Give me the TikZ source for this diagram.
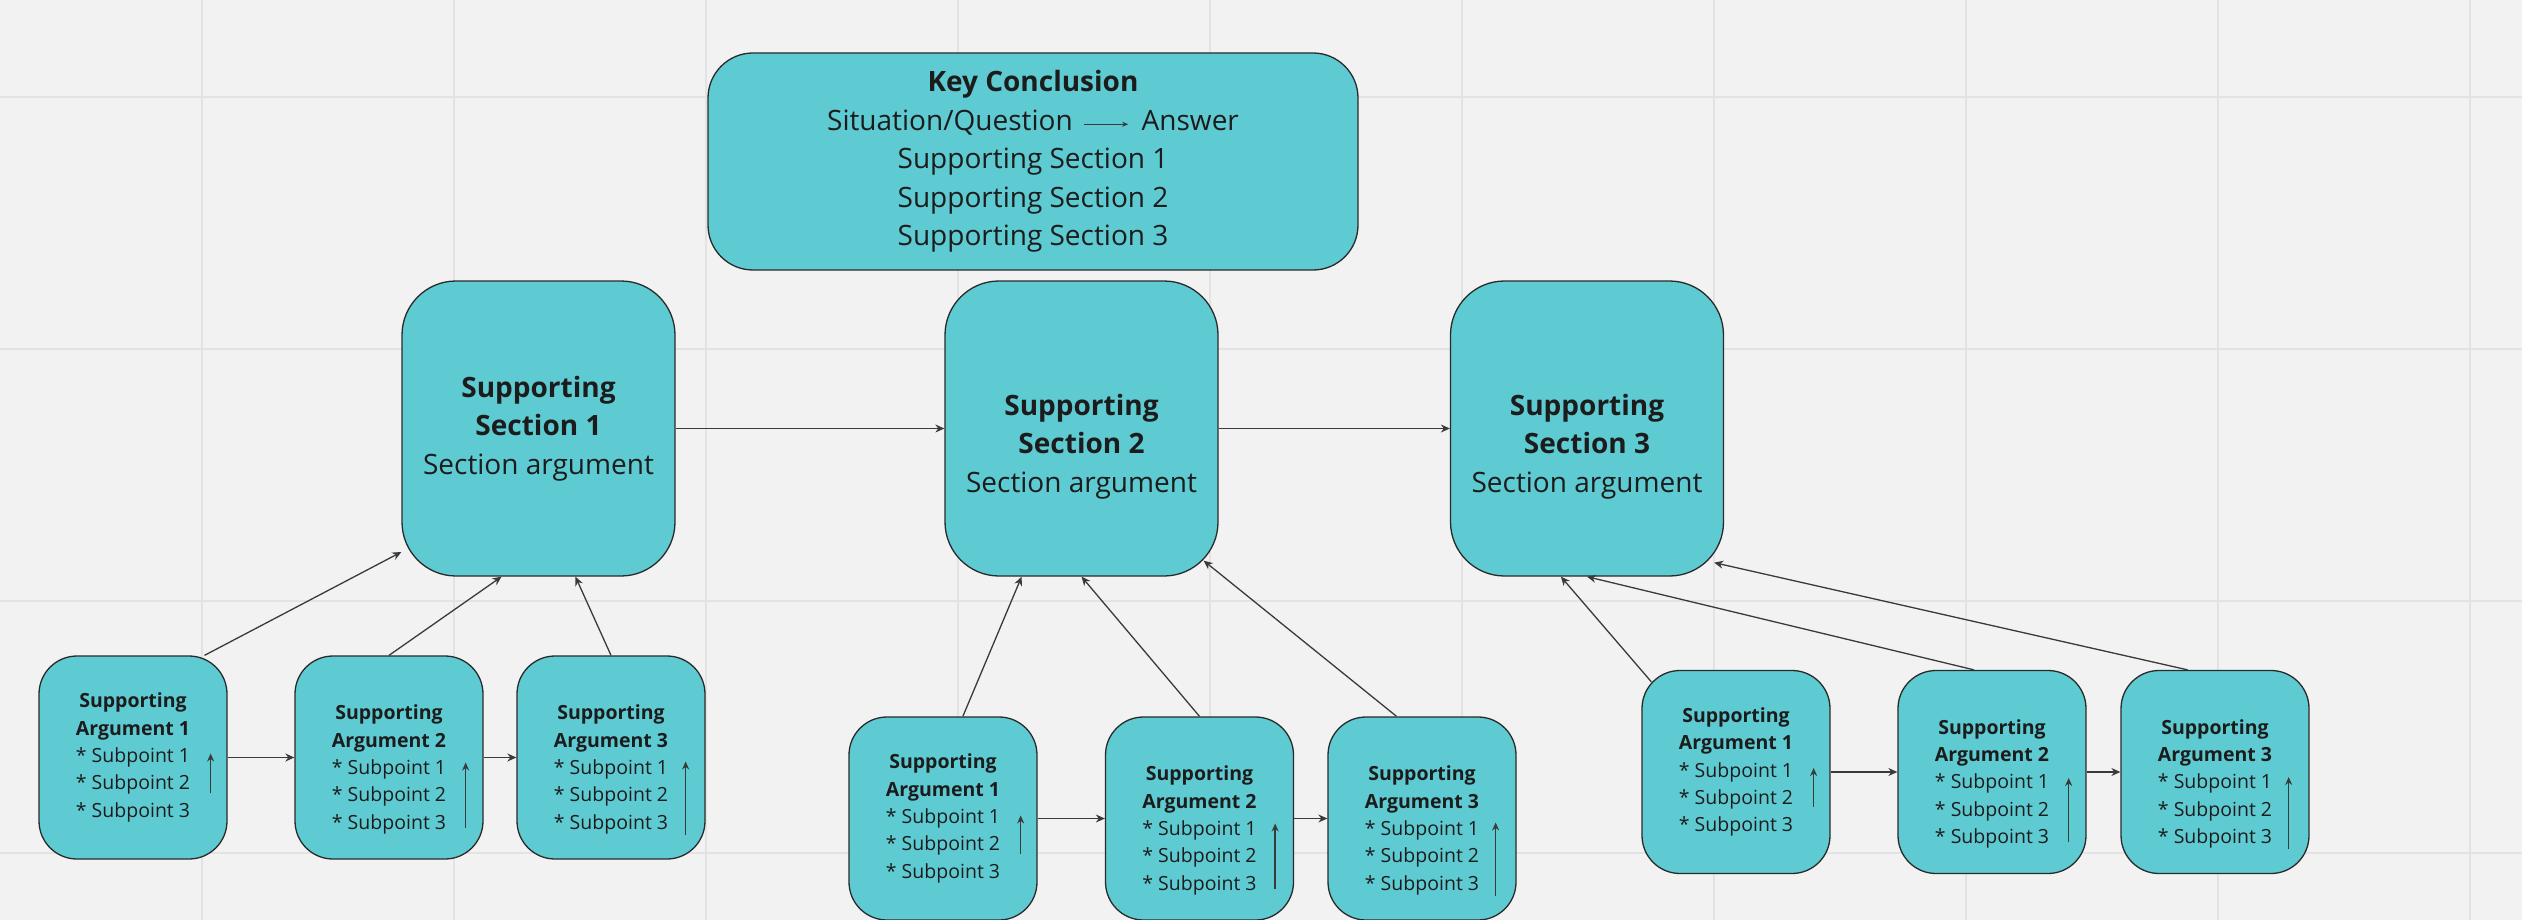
\documentclass[tikz,border=0pt]{standalone}
\usepackage{fontspec}
\setmainfont{Open Sans}
\usetikzlibrary{arrows.meta}
\definecolor{boxteal}{HTML}{5ECBD3}
\definecolor{boxline}{HTML}{2A2A2A}
\definecolor{arrowgray}{HTML}{3A3A3A}
\definecolor{canvas}{HTML}{F2F2F2}
\definecolor{gridgray}{HTML}{E3E3E3}
\definecolor{inktext}{HTML}{1C1C1C}

\begin{document}
\begin{tikzpicture}[x=1pt, y=-1pt,
  tealbox/.style={shape=rectangle, draw=boxline, fill=boxteal, line width=1.3pt, align=center, text=inktext},
  keybox/.style={tealbox, rounded corners=45pt, minimum width=650pt, minimum height=217pt, font=\fontsize{28}{38.5}\selectfont},
  secbox/.style={tealbox, rounded corners=54pt, minimum width=273pt, minimum height=295pt, font=\fontsize{28}{38.5}\selectfont},
  argbox/.style={tealbox, rounded corners=38pt, minimum width=188pt, minimum height=203pt, font=\fontsize{19.5}{27.4}\selectfont},
  link/.style={-{Stealth[length=9pt,width=8pt]}, line width=1.3pt, color=arrowgray},
  rise/.style={-{Stealth[length=8pt,width=7pt]}, line width=1.6pt, color=arrowgray},
  gridline/.style={draw=gridgray, line width=2pt}]
\useasboundingbox (0,0) rectangle (2522,920);
\fill[canvas] (0,0) rectangle (2522,920);
\foreach \gx in {202,454,...,2470} \draw[gridline] (\gx,0) -- (\gx,920);
\foreach \gy in {97,349,601,853} \draw[gridline] (0,\gy) -- (2522,\gy);
% conclusion and sections
\node[keybox] (key) at (1033,161.5) {\textbf{Key Conclusion}\\Situation/Question\hspace{11pt}\tikz[baseline=-6pt]\draw[-{Stealth[length=6pt,width=5pt]}, line width=1pt, draw=arrowgray] (0pt,0pt) -- (44pt,0pt);\hspace{13pt}Answer\\Supporting Section 1\\Supporting Section 2\\Supporting Section 3};
\node[secbox] (s1) at (538.5,428.5) {\textbf{Supporting}\\\textbf{Section 1}\\Section argument};
\node[secbox] (s2) at (1081.5,428.5) {\strut\\[-8pt]\textbf{Supporting}\\\textbf{Section 2}\\Section argument};
\node[secbox] (s3) at (1587,428.5) {\strut\\[-8pt]\textbf{Supporting}\\\textbf{Section 3}\\Section argument};
% arguments
\node[argbox] (a11) at (133,757.5) {\textbf{Supporting}\\\textbf{Argument 1}\\* Subpoint 1\\* Subpoint 2\\* Subpoint 3};
\node[argbox] (a12) at (389,757.5) {\strut\\[-8pt]\textbf{Supporting}\\\textbf{Argument 2}\\* Subpoint 1\\* Subpoint 2\\* Subpoint 3};
\node[argbox] (a13) at (611,757.5) {\strut\\[-8pt]\textbf{Supporting}\\\textbf{Argument 3}\\* Subpoint 1\\* Subpoint 2\\* Subpoint 3};
\node[argbox] (a21) at (943,818.5) {\textbf{Supporting}\\\textbf{Argument 1}\\* Subpoint 1\\* Subpoint 2\\* Subpoint 3};
\node[argbox] (a22) at (1199.5,818.5) {\strut\\[-8pt]\textbf{Supporting}\\\textbf{Argument 2}\\* Subpoint 1\\* Subpoint 2\\* Subpoint 3};
\node[argbox] (a23) at (1422,818.5) {\strut\\[-8pt]\textbf{Supporting}\\\textbf{Argument 3}\\* Subpoint 1\\* Subpoint 2\\* Subpoint 3};
\node[argbox] (a31) at (1736,772) {\textbf{Supporting}\\\textbf{Argument 1}\\* Subpoint 1\\* Subpoint 2\\* Subpoint 3};
\node[argbox] (a32) at (1992,772) {\strut\\[-8pt]\textbf{Supporting}\\\textbf{Argument 2}\\* Subpoint 1\\* Subpoint 2\\* Subpoint 3};
\node[argbox] (a33) at (2215,772) {\strut\\[-8pt]\textbf{Supporting}\\\textbf{Argument 3}\\* Subpoint 1\\* Subpoint 2\\* Subpoint 3};
% small arrows inside the argument boxes
\coordinate (r11a) at ([shift={(-17,35)}]a11.east);   \coordinate (r11b) at ([shift={(-17,-4)}]a11.east);
\coordinate (r12a) at ([shift={(-18,70)}]a12.east);   \coordinate (r12b) at ([shift={(-18,5)}]a12.east);
\coordinate (r13a) at ([shift={(-20,77)}]a13.east);   \coordinate (r13b) at ([shift={(-20,4)}]a13.east);
\coordinate (r21a) at ([shift={(-17,35)}]a21.east);   \coordinate (r21b) at ([shift={(-17,-3)}]a21.east);
\coordinate (r22a) at ([shift={(-19,70)}]a22.east);   \coordinate (r22b) at ([shift={(-19,5)}]a22.east);
\coordinate (r23a) at ([shift={(-21,77)}]a23.east);   \coordinate (r23b) at ([shift={(-21,4)}]a23.east);
\coordinate (r31a) at ([shift={(-17,35)}]a31.east);   \coordinate (r31b) at ([shift={(-17,-4)}]a31.east);
\coordinate (r32a) at ([shift={(-18,70)}]a32.east);   \coordinate (r32b) at ([shift={(-18,6)}]a32.east);
\coordinate (r33a) at ([shift={(-21,77)}]a33.east);   \coordinate (r33b) at ([shift={(-21,5)}]a33.east);
% section chain
\path [link] (s1) edge (s2);
\path [link] (s2) edge (s3);
% arguments up to sections
\path [link] (a11.55) edge (s1.222);
\path [link] (a12.north) edge (s1.256);
\path [link] (a13.north) edge (s1.284);
\path [link] (a21.79) edge (s2.248);
\path [link] (a22.north) edge (s2.south);
\path [link] (a23.104) edge ([shift={(-15,-16)}]s2.south east);
\path [link] ([shift={(10,12)}]a31.north west) edge (s3.260);
\path [link] (a32.100) edge (s3.south);
\path [link] (a33.105) edge ([shift={(-10,-14)}]s3.south east);
% argument chains
\path [link] (a11) edge (a12);
\path [link] (a12) edge (a13);
\path [link] (a21) edge (a22);
\path [link] (a22) edge (a23);
\path [link] (a31) edge (a32);
\path [link] (a32) edge (a33);
% rising arrows
\path [rise] (r11a) edge (r11b);
\path [rise] (r12a) edge (r12b);
\path [rise] (r13a) edge (r13b);
\path [rise] (r21a) edge (r21b);
\path [rise] (r22a) edge (r22b);
\path [rise] (r23a) edge (r23b);
\path [rise] (r31a) edge (r31b);
\path [rise] (r32a) edge (r32b);
\path [rise] (r33a) edge (r33b);
\end{tikzpicture}
\end{document}
